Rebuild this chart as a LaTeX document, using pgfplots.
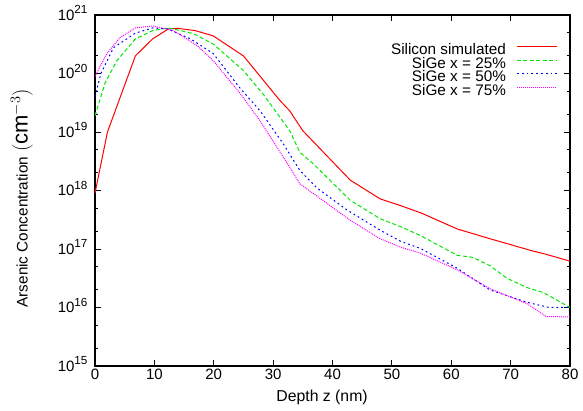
\documentclass[border=0pt]{standalone}
\usepackage{pgfplots}
\pgfplotsset{compat=1.18}
\usepackage{fontspec}
\setmainfont{Liberation Sans}
\definecolor{gred}{RGB}{255,0,0}
\definecolor{ggreen}{RGB}{0,230,0}
\definecolor{gblue}{RGB}{0,0,255}
\definecolor{gmag}{RGB}{255,0,255}
\newcommand{\tp}[1]{10\raisebox{0.42em}{\fontsize{11.7}{12}\selectfont #1}}
\begin{document}
\begin{tikzpicture}
\useasboundingbox (-95pt,-44pt) rectangle (488pt,366pt);
\begin{axis}[
  scale only axis,
  width=475pt, height=351pt,
  xmin=0, xmax=80, ymin=1e15, ymax=1e21,
  ymode=log,
  xtick={0,10,...,80},
  ytick={1e15,1e16,1e17,1e18,1e19,1e20,1e21},
  yticklabels={\tp{15},\tp{16},\tp{17},\tp{18},\tp{19},\tp{20},\tp{21}},
  minor ytick={2e15,5e15,2e16,5e16,2e17,5e17,2e18,5e18,2e19,5e19,2e20,5e20},
  /pgf/number format/assume math mode=true,
  tick align=inside,
  major tick length=6pt, minor tick length=3.5pt,
  every tick/.style={black, line width=0.9pt},
  axis line style={line width=1.1pt},
  tick label style={font=\fontsize{15}{17}\selectfont},
  yticklabel style={xshift=-4pt, yshift=2pt},
  label style={font=\fontsize{15.3}{17}\selectfont},
  xlabel={Depth z (nm)},
  ylabel={Arsenic Concentration\hspace{5pt}{\fontsize{22}{23}\selectfont$(\mathrm{cm}^{-3})$}},
  xlabel style={at={(axis description cs:0.478,-0.09)}, anchor=center, font=\fontsize{15.8}{17}\selectfont},
  ylabel style={at={(axis description cs:-0.154,0.478)}, anchor=center},
  legend style={at={(axis cs:80,1e21)}, anchor=north east, xshift=-12.5pt, yshift=-30pt,
    draw=none, fill=none, inner sep=0pt, outer sep=0pt,
    font=\fontsize{15.3}{14}\selectfont,
    row sep=0pt, nodes={inner xsep=3.5pt, inner ysep=0pt, text height=10pt, text depth=3.5pt},
    /tikz/column 1/.style={column sep=7pt}},
  legend cell align=right,
  legend plot pos=right,
  every axis plot/.append style={line width=1pt},
]
\addplot[gred, legend image code/.code={\draw[gred, line width=1.1pt] (0pt,5pt) -- (40pt,5pt);}] coordinates {
(0,9e17) (2.1,1e19) (6.8,2e20) (9.7,3.9e20) (12.4,5.8e20) (14,5.9e20) (16.9,5.4e20) (19.9,4.4e20) (25,2e20)
(31.2,3.4e19) (32.8,2.3e19) (35,1.05e19) (43,1.5e18) (48,7.2e17) (51.5,5.5e17) (55,4.1e17)
(61,2.2e17) (66.5,1.5e17) (73.3,9.5e16) (76,8.1e16) (80,6.2e16)};
\addlegendentry{Silicon simulated}
\addplot[ggreen, dash pattern=on 4pt off 2.5pt, legend image code/.code={\draw[ggreen, line width=1.1pt, dash pattern=on 4pt off 2.5pt] (0pt,5pt) -- (40pt,5pt);}] coordinates {
(0,1.9e19) (1.7,6.9e19) (3.7,1.66e20) (6.8,3.9e20) (9.7,5.4e20) (12.4,6e20) (16.6,4.8e20) (19.9,3.2e20)
(25,1.12e20) (28.5,4.2e19) (32.8,1.05e19) (34.5,4.5e18) (36.7,2.9e18) (43,6.8e17) (48,3.3e17)
(51.5,2.4e17) (54.8,1.7e17) (61,7.8e16) (63.6,7.2e16) (66.5,5.2e16) (69.3,3.2e16) (72.7,2.2e16) (75.5,1.8e16) (80,1e16)};
\addlegendentry{SiGe x = 25\%}
\addplot[gblue, dash pattern=on 1.8pt off 3pt, legend image code/.code={\draw[gblue, line width=1.1pt, dash pattern=on 1.8pt off 3pt] (0pt,5pt) -- (40pt,5pt);}] coordinates {
(0,4e19) (1,1e20) (3.1,2.75e20) (6.8,4.9e20) (9.7,6e20) (12.2,5.8e20) (16.1,3.9e20) (19.9,2.2e20)
(24.5,5.5e19) (27.8,2.3e19) (31.7,6.3e18) (34.5,2.2e18) (37.4,1.1e18) (42.5,4.6e17) (48,2.1e17)
(51.5,1.35e17) (54.8,1.02e17) (61,4.7e16) (66.5,2e16) (72.7,1.23e16) (76.5,1e16) (80,1e16)};
\addlegendentry{SiGe x = 50\%}
\addplot[gmag, dash pattern=on 1pt off 1pt, legend image code/.code={\draw[gmag, line width=1.1pt, dash pattern=on 1pt off 1pt] (0pt,5pt) -- (40pt,5pt);}] coordinates {
(0,9e19) (2,2.2e20) (4.2,4.1e20) (6.8,6e20) (9.7,6.5e20) (13.2,5.4e20) (17.2,3e20) (19.9,1.66e20)
(24.5,4.5e19) (27.8,1.55e19) (32.8,2.5e18) (34.5,1.3e18) (43,3.1e17) (48,1.5e17) (51.5,1.07e17)
(54.8,8.5e16) (61,4.4e16) (66.5,2.1e16) (72.7,1.17e16) (76,7e15) (80,6.9e15)};
\addlegendentry{SiGe x = 75\%}
\end{axis}
\end{tikzpicture}
\end{document}
